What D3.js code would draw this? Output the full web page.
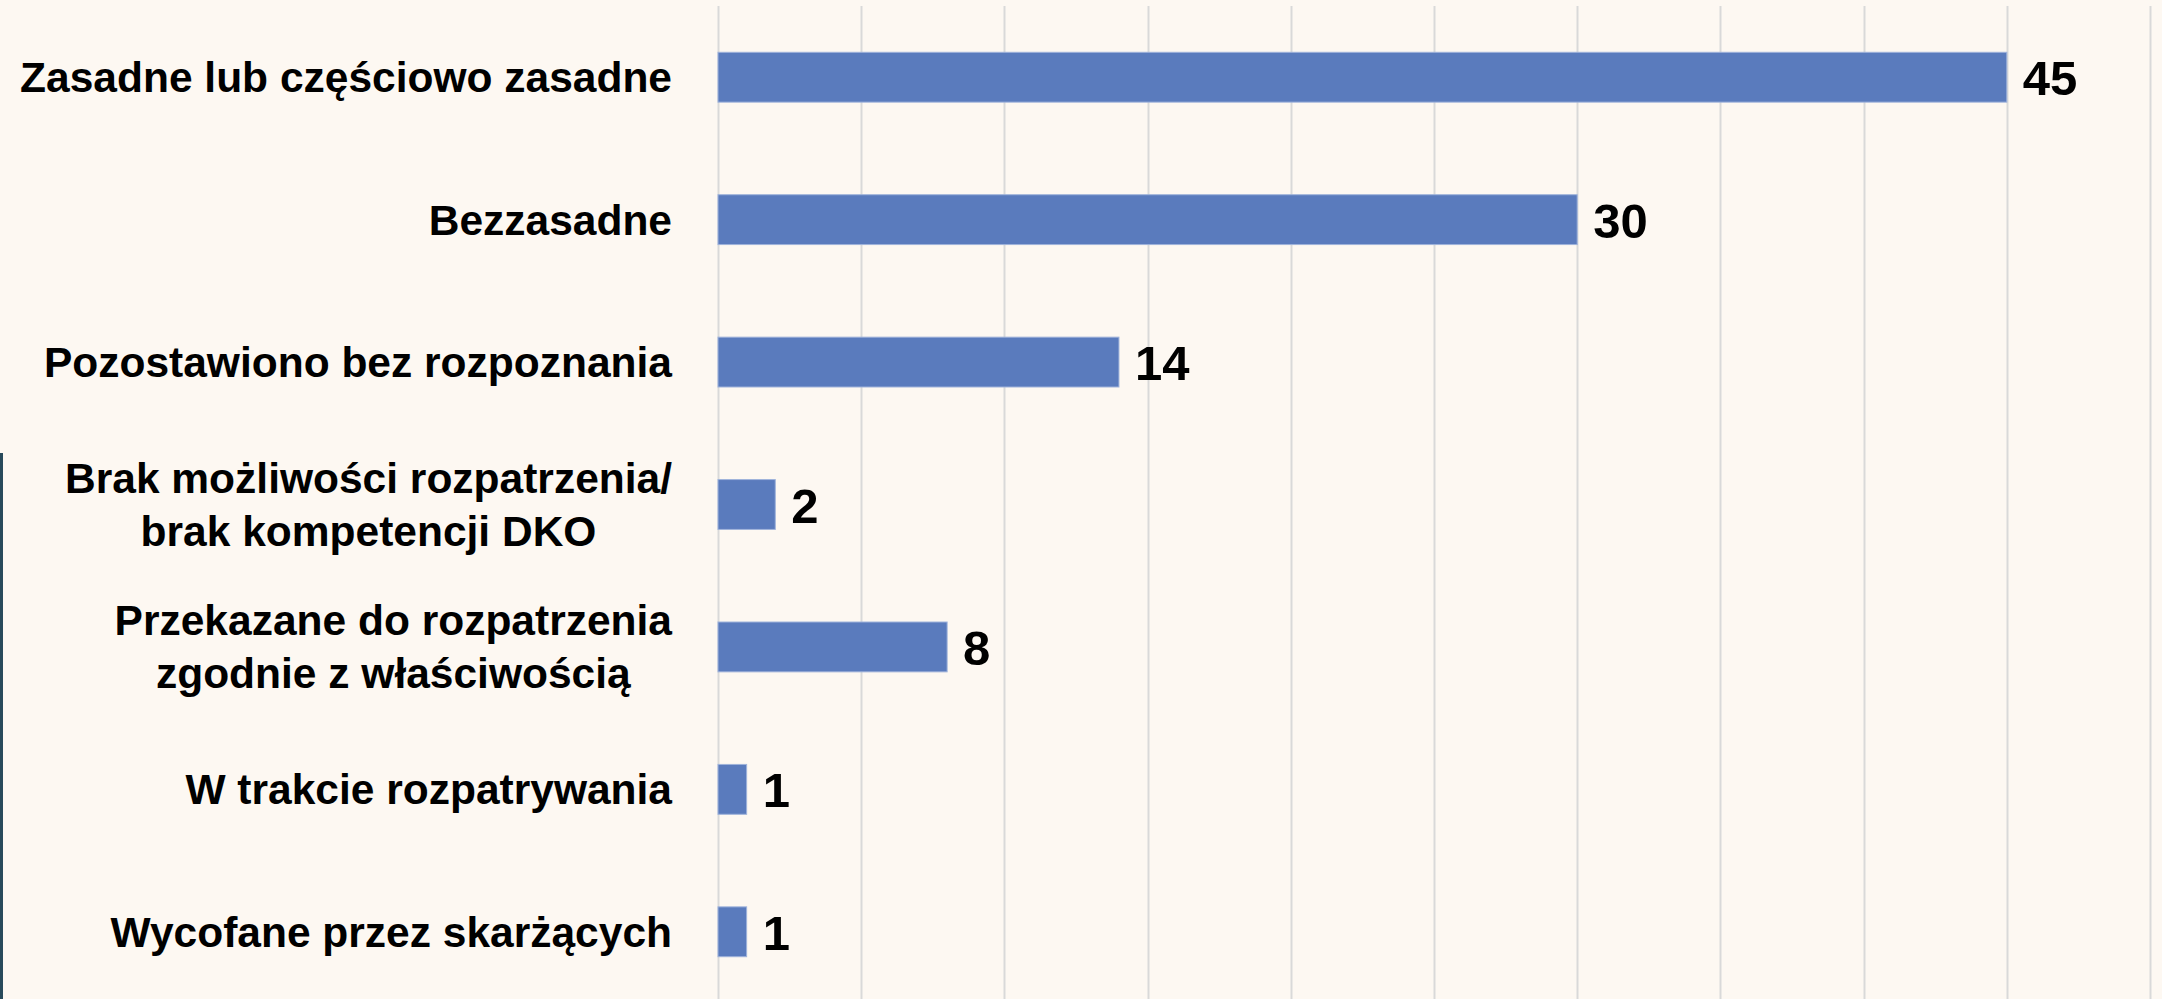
<!DOCTYPE html>
<html>
<head>
<meta charset="utf-8">
<script src="https://cdn.jsdelivr.net/npm/d3@7"></script>
<style>
  html, body { margin: 0; padding: 0; background: #fdf8f2; }
  svg { display: block; }
  text { font-family: "Liberation Sans", Arial, sans-serif; font-weight: bold; fill: #000; }
</style>
</head>
<body>
<div id="chart"></div>
<script>
// categories (each entry is a list of label lines)
var categories = [
  ["Zasadne lub częściowo zasadne"],
  ["Bezzasadne"],
  ["Pozostawiono bez rozpoznania"],
  ["Brak możliwości rozpatrzenia/", "brak kompetencji DKO"],
  ["Przekazane do rozpatrzenia", "zgodnie z właściwością"],
  ["W trakcie rozpatrywania"],
  ["Wycofane przez skarżących"]
];
var values = [45, 30, 14, 2, 8, 1, 1];
var xTicks = [0, 5, 10, 15, 20, 25, 30, 35, 40, 45, 50];

var width = 2162,
  height = 999,
  margin = {left: 718, right: 12, top: 6, bottom: -4},
  labelRight = 672;

var svg = d3.select("#chart")
  .append("svg")
  .attr("width", width)
  .attr("height", height);

svg.append("rect")
  .attr("width", width)
  .attr("height", height)
  .attr("fill", "#fdf8f2");

// dark strip on the left edge
svg.append("rect")
  .attr("x", 0)
  .attr("y", 453)
  .attr("width", 3)
  .attr("height", height - 453)
  .attr("fill", "#284a5b");

var x = d3.scaleLinear()
  .domain([0, 50])
  .range([margin.left, width - margin.right]);

var y = d3.scaleBand()
  .domain(d3.range(categories.length))
  .range([margin.top, height - margin.bottom])
  .paddingInner(0.65)
  .paddingOuter(0.325);

// vertical gridlines
svg.append("g")
  .selectAll("line")
  .data(xTicks)
  .enter()
  .append("line")
  .attr("x1", function (d) { return Math.round(x(d)) + 0.5; })
  .attr("x2", function (d) { return Math.round(x(d)) + 0.5; })
  .attr("y1", margin.top)
  .attr("y2", height)
  .attr("stroke", "#d9d9d9")
  .attr("stroke-width", 2);

// bars
svg.append("g")
  .selectAll("rect")
  .data(values)
  .enter()
  .append("rect")
  .attr("x", x(0))
  .attr("y", function (d, i) { return y(i); })
  .attr("width", function (d) { return x(d) - x(0); })
  .attr("height", y.bandwidth())
  .attr("fill", "#5a7bbd")
  .attr("stroke", "#9fb3db")
  .attr("stroke-width", 1);

// value labels
svg.append("g")
  .selectAll("text")
  .data(values)
  .enter()
  .append("text")
  .attr("x", function (d) { return x(d) + 16; })
  .attr("y", function (d, i) { return y(i) + y.bandwidth() / 2 + 18; })
  .style("font-size", "49px")
  .text(function (d) { return d; });

// category labels, multi-line ones centred as a block
var lineH = 53;
var labels = svg.append("g")
  .selectAll("g")
  .data(categories)
  .enter()
  .append("g");

labels.each(function (lines, i) {
  var g = d3.select(this);
  var cy = y(i) + y.bandwidth() / 2;
  var texts = g.selectAll("text")
    .data(lines)
    .enter()
    .append("text")
    .style("font-size", "42.5px")
    .attr("y", function (d, j) { return cy + 15 + (j - (lines.length - 1) / 2) * lineH; })
    .text(function (d) { return d; });
  if (lines.length === 1) {
    texts.attr("x", labelRight).attr("text-anchor", "end");
  } else {
    var maxW = d3.max(texts.nodes(), function (n) { return n.getComputedTextLength(); });
    texts.attr("x", labelRight - maxW / 2).attr("text-anchor", "middle");
  }
});
</script>
</body>
</html>
